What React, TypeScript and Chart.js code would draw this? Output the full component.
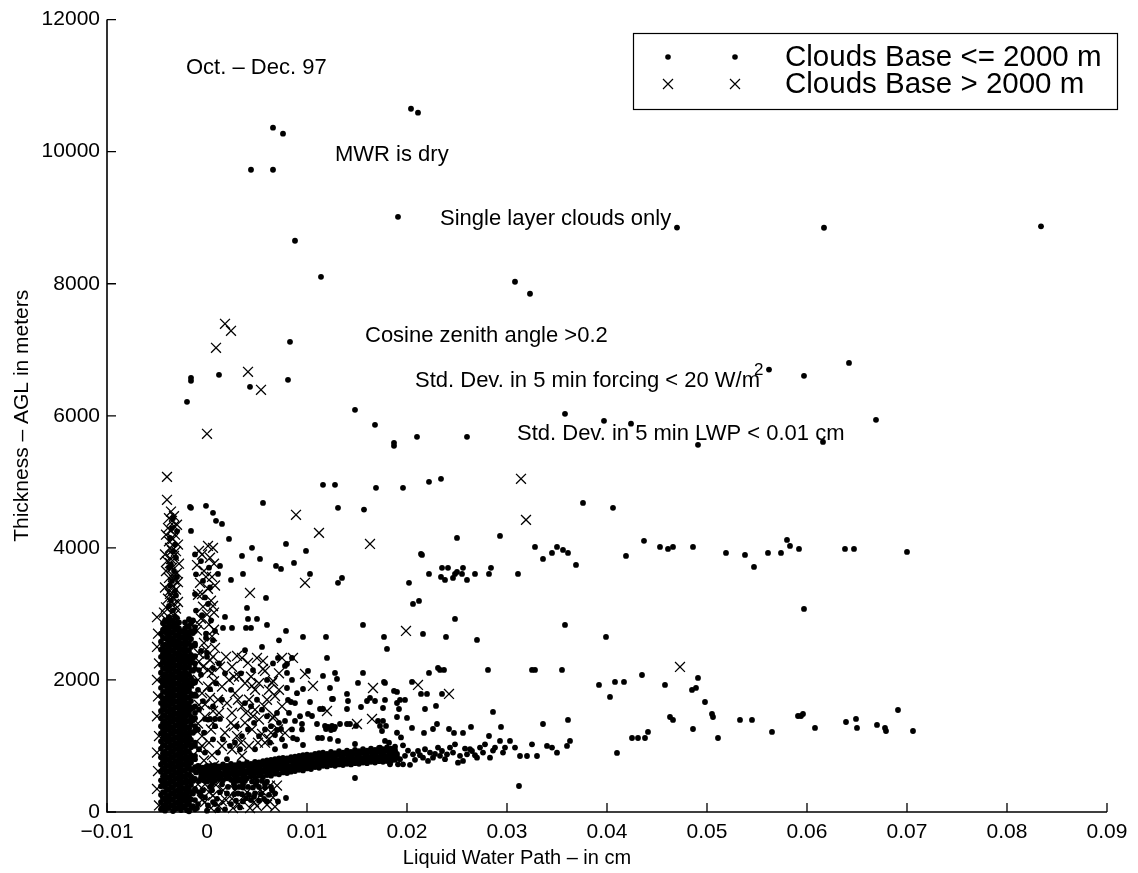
import React, { useEffect, useRef } from "react";
import { Chart, registerables } from "chart.js";

Chart.register(...registerables);

const FONT = "'Liberation Sans', Arial, Helvetica, sans-serif";

// ---------- axis ticks ----------
const xTickValues = [-0.01, 0, 0.01, 0.02, 0.03, 0.04, 0.05, 0.06, 0.07, 0.08, 0.09];
const xTickLabels = ["\u22120.01", "0", "0.01", "0.02", "0.03", "0.04", "0.05", "0.06", "0.07", "0.08", "0.09"];
const yTickValues = [0, 2000, 4000, 6000, 8000, 10000, 12000];
const yTickLabels = ["0", "2000", "4000", "6000", "8000", "10000", "12000"];

const xTitle = "Liquid Water Path \u2013 in cm";
const yTitle = "Thickness \u2013 AGL in meters";
const legendLabels = ["Clouds Base <= 2000 m", "Clouds Base > 2000 m"];

// ---------- annotations (data coordinates) ----------
const noteTexts = [
  "Oct. \u2013 Dec. 97",
  "MWR is dry",
  "Single layer clouds only",
  "Cosine zenith angle >0.2",
  "Std. Dev. in 5 min forcing < 20 W/m",
  "Std. Dev. in 5 min LWP < 0.01 cm",
];
const noteX = [-0.0021, 0.0128, 0.0233, 0.0158, 0.0208, 0.031];
const noteY = [11270, 9950, 8985, 7210, 6530, 5730];

// ---------- Clouds Base <= 2000 m (dots) ----------
// dense vertical column near LWP = -0.003
const columnX = [
  -0.0046, -0.0042, -0.0038, -0.0034, -0.003, -0.0026, -0.0022, -0.0018, -0.0014, -0.004, -0.0032, -0.0024,
  -0.0044, -0.0036, -0.0028, -0.002, -0.0016, -0.0012,
];
const columnY = [
  [40, 150, 260, 390, 480, 610, 720, 830, 960, 1070, 1190, 1300, 1420, 1530, 1650, 1760, 1880, 1990, 2110, 2230, 2350, 2460, 2580, 2700],
  [20, 105, 210, 290, 385, 470, 565, 645, 740, 835, 915, 1010, 1105, 1185, 1280, 1375, 1455, 1550, 1645, 1725, 1820, 1915, 1995, 2090, 2185, 2265, 2360, 2455, 2535, 2630, 2725, 2805, 2900],
  [60, 150, 240, 335, 430, 515, 610, 700, 785, 880, 970, 1060, 1150, 1240, 1325, 1420, 1510, 1600, 1690, 1775, 1870, 1960, 2050, 2140, 2230, 2315, 2410, 2500, 2590, 2680, 2765, 2860, 2950],
  [15, 100, 190, 285, 370, 460, 555, 640, 730, 825, 910, 1000, 1095, 1180, 1270, 1365, 1450, 1540, 1635, 1720, 1810, 1905, 1990, 2080, 2175, 2260, 2350, 2445, 2530, 2620, 2715, 2800, 2890],
  [55, 140, 235, 320, 415, 505, 590, 685, 770, 865, 955, 1040, 1135, 1220, 1315, 1405, 1490, 1585, 1670, 1765, 1855, 1940, 2035, 2120, 2215, 2305, 2390, 2485, 2570, 2665, 2755, 2840, 2935],
  [30, 120, 210, 300, 395, 480, 575, 665, 750, 845, 935, 1020, 1115, 1200, 1295, 1385, 1470, 1565, 1650, 1745, 1835, 1920, 2015, 2100, 2195, 2285, 2370, 2465, 2550, 2645, 2735],
  [70, 165, 250, 345, 440, 525, 620, 710, 800, 890, 980, 1070, 1160, 1250, 1340, 1430, 1520, 1610, 1700, 1790, 1880, 1970, 2060, 2150, 2240, 2330, 2420, 2510, 2600, 2690, 2780, 2870],
  [10, 130, 230, 350, 460, 560, 690, 800, 910, 1040, 1150, 1270, 1380, 1500, 1620, 1730, 1850, 1960, 2080, 2200, 2320, 2440, 2560, 2680, 2800, 2920],
  [90, 280, 470, 640, 830, 1010, 1200, 1390, 1580, 1760, 1950, 2140, 2330, 2520, 2710, 2900],
  [65, 160, 245, 340, 425, 520, 615, 700, 795, 880, 975, 1070, 1155, 1250, 1340, 1430, 1525, 1610, 1705, 1795, 1885, 1980, 2065, 2160, 2255, 2340, 2430, 2525, 2615, 2705, 2795, 2880],
  [45, 135, 230, 315, 410, 500, 595, 680, 775, 860, 955, 1045, 1130, 1225, 1310, 1405, 1495, 1585, 1680, 1770, 1860, 1950, 2040, 2135, 2225, 2315, 2405, 2500, 2590, 2680, 2770, 2860, 2960],
  [85, 175, 265, 355, 450, 540, 630, 720, 810, 905, 995, 1085, 1175, 1270, 1360, 1450, 1540, 1630, 1725, 1815, 1905, 1995, 2085, 2180, 2270, 2360, 2450, 2545, 2640, 2730],
  [85, 195, 300, 430, 540, 660, 770, 890, 1010, 1120, 1240, 1350, 1470, 1590, 1700, 1820, 1940, 2050, 2170, 2290, 2400, 2520, 2640, 2760, 2860],
  [105, 195, 285, 380, 470, 560, 655, 745, 835, 925, 1015, 1105, 1195, 1285, 1375, 1465, 1555, 1645, 1735, 1825, 1915, 2005, 2095, 2185, 2275, 2365, 2455, 2545, 2635, 2725, 2815, 2905],
  [80, 170, 260, 350, 440, 530, 620, 710, 800, 890, 980, 1070, 1160, 1250, 1340, 1430, 1520, 1610, 1700, 1790, 1880, 1970, 2060, 2150, 2240, 2330, 2420, 2510, 2600, 2690, 2780, 2870],
  [25, 115, 205, 295, 385, 475, 565, 655, 745, 835, 925, 1015, 1105, 1195, 1285, 1375, 1465, 1555, 1645, 1735, 1825, 1915, 2005, 2095, 2185, 2275, 2365, 2455, 2545, 2635, 2725, 2815],
  [60, 190, 300, 410, 520, 640, 750, 860, 980, 1090, 1210, 1320, 1440, 1560, 1680, 1790, 1910, 2030, 2150, 2260, 2380, 2500, 2620, 2740, 2860],
  [40, 180, 330, 500, 680, 850, 1050, 1230, 1420, 1600, 1780, 1980, 2170, 2360, 2550, 2740],
];

const upperColumnDots = [
  [-0.0034, 3050], [-0.0036, 3200], [-0.0032, 3350], [-0.0035, 3500], [-0.0033, 3650], [-0.0036, 3750],
  [-0.0034, 3950], [-0.0032, 4050], [-0.0035, 4300], [-0.0034, 4450], [-0.0016, 4606], [-0.0016, 4257],
  [-0.0038, 3120], [-0.0031, 3280], [-0.0037, 3430], [-0.003, 3560], [-0.0038, 3700], [-0.0031, 3850],
  [-0.0037, 4150], [-0.003, 4250],
];

const secondColumnDots = [
  [-0.0012, 3900], [-0.0006, 3800], [0.0002, 3700], [-0.0011, 3600], [-0.0004, 3500], [0.0003, 3400],
  [-0.0012, 3300], [-0.0002, 3250], [0.0001, 3150], [-0.0011, 3050], [-0.0005, 2980], [0.0004, 2900],
  [-0.0012, 2800], [-0.0001, 2700], [0.0006, 2600], [-0.0012, 2520], [-0.0006, 2440], [0, 2350],
  [-0.0012, 2250], [0.0006, 2180], [-0.0006, 2080], [-0.0012, 1960], [0.0003, 1860], [-0.0011, 1760],
  [-0.0004, 1680], [0.0006, 1600], [-0.0012, 1500], [0.0001, 1400], [-0.0012, 1300], [-0.0003, 1200],
  [0.0006, 1100], [-0.0012, 1000], [-0.0002, 900], [-0.0012, 800], [0.0004, 700], [-0.0011, 600],
  [-0.0003, 480], [0.0005, 420], [-0.0012, 350], [-0.0002, 220], [0.0006, 150], [-0.001, 60], [0, 20],
  [-0.0001, 2636], [0, 2409], [-0.0008, 2150], [-0.0009, 1850], [-0.0008, 1550], [-0.0009, 1250],
  [-0.0008, 950], [-0.0009, 700], [-0.0008, 300], [-0.0009, 120],
];

const bandLow = [
  [-0.0008, 470], [-0.0004, 490], [0, 460], [0.0004, 480], [0.0008, 470], [0.0012, 500], [0.0016, 480], [0.002, 510],
  [0.0024, 490], [0.0028, 520], [0.0032, 500], [0.0036, 530], [0.004, 510], [0.0044, 540], [0.0048, 520], [0.0052, 550],
  [0.0056, 530], [0.006, 560], [0.0064, 550], [0.0068, 580], [0.0072, 570], [0.0076, 600], [0.008, 590], [0.0084, 610],
  [0.0088, 620], [0.0092, 640], [0.0096, 630], [0.01, 660], [0.0104, 650], [0.0108, 680], [0.0112, 670], [0.0116, 700],
  [0.012, 690], [0.0124, 710], [0.0128, 700], [0.0132, 720], [0.0136, 710], [0.014, 730], [0.0144, 720], [0.0148, 740],
  [0.0152, 730], [0.0156, 750], [0.016, 740], [0.0164, 760], [0.0168, 750], [0.0172, 770], [0.0176, 760], [0.018, 780],
  [0.0184, 770], [0.0188, 790],
];
const bandLowMid = [
  [-0.0006, 520], [-0.0002, 540], [0.0002, 515], [0.0006, 535], [0.001, 545], [0.0014, 530], [0.0018, 555], [0.0022, 545],
  [0.0026, 570], [0.003, 555], [0.0034, 580], [0.0038, 570], [0.0042, 590], [0.0046, 575], [0.005, 600], [0.0054, 590],
  [0.0058, 610], [0.0062, 615], [0.0066, 630], [0.007, 640], [0.0074, 650], [0.0078, 660], [0.0082, 650], [0.0086, 670],
  [0.009, 680], [0.0094, 690], [0.0098, 700], [0.0102, 710], [0.0106, 700], [0.011, 720], [0.0114, 730], [0.0118, 740],
  [0.0122, 735], [0.0126, 755], [0.013, 745], [0.0134, 765], [0.0138, 755], [0.0142, 775], [0.0146, 765], [0.015, 785],
  [0.0154, 775], [0.0158, 795], [0.0162, 785], [0.0166, 805], [0.017, 795], [0.0174, 815], [0.0178, 805], [0.0182, 825],
  [0.0186, 815], [0.019, 835],
];
const bandMid = [
  [-0.0006, 580], [-0.0002, 600], [0.0002, 570], [0.0006, 590], [0.001, 600], [0.0014, 580], [0.0018, 610], [0.0022, 600],
  [0.0026, 620], [0.003, 610], [0.0034, 630], [0.0038, 620], [0.0042, 640], [0.0046, 630], [0.005, 650], [0.0054, 640],
  [0.0058, 660], [0.0062, 670], [0.0066, 680], [0.007, 690], [0.0074, 700], [0.0078, 710], [0.0082, 700], [0.0086, 720],
  [0.009, 730], [0.0094, 740], [0.0098, 750], [0.0102, 760], [0.0106, 750], [0.011, 770], [0.0114, 780], [0.0118, 790],
  [0.0122, 780], [0.0126, 800], [0.013, 790], [0.0134, 810], [0.0138, 800], [0.0142, 820], [0.0146, 810], [0.015, 830],
  [0.0154, 820], [0.0158, 840], [0.0162, 830], [0.0166, 850], [0.017, 840], [0.0174, 860], [0.0178, 850], [0.0182, 870],
  [0.0186, 860], [0.019, 880],
];
const bandMidHigh = [
  [-0.0008, 635], [-0.0004, 650], [0, 640], [0.0004, 635], [0.0008, 655], [0.0012, 645], [0.0016, 665], [0.002, 655],
  [0.0024, 675], [0.0028, 665], [0.0032, 685], [0.0036, 675], [0.004, 695], [0.0044, 685], [0.0048, 705], [0.0052, 700],
  [0.0056, 715], [0.006, 725], [0.0064, 735], [0.0068, 745], [0.0072, 755], [0.0076, 765], [0.008, 760], [0.0084, 775],
  [0.0088, 785], [0.0092, 795], [0.0096, 805], [0.01, 815], [0.0104, 810], [0.0108, 825], [0.0112, 835], [0.0116, 845],
  [0.012, 835], [0.0124, 855], [0.0128, 845], [0.0132, 865], [0.0136, 855], [0.014, 875], [0.0144, 865], [0.0148, 885],
  [0.0152, 875], [0.0156, 895], [0.016, 885], [0.0164, 905], [0.0168, 895], [0.0172, 915], [0.0176, 905], [0.018, 925],
  [0.0184, 915], [0.0188, 935],
];
const bandHigh = [
  [-0.0008, 690], [-0.0004, 670], [0, 700], [0.0004, 680], [0.0008, 710], [0.0012, 690], [0.0016, 720], [0.002, 700],
  [0.0024, 730], [0.0028, 710], [0.0032, 740], [0.0036, 720], [0.004, 750], [0.0044, 730], [0.0048, 760], [0.0052, 750],
  [0.0056, 770], [0.006, 780], [0.0064, 790], [0.0068, 800], [0.0072, 810], [0.0076, 820], [0.008, 810], [0.0084, 830],
  [0.0088, 840], [0.0092, 850], [0.0096, 860], [0.01, 870], [0.0104, 860], [0.0108, 880], [0.0112, 890], [0.0116, 900],
  [0.012, 880], [0.0124, 910], [0.0128, 890], [0.0132, 920], [0.0136, 900], [0.014, 930], [0.0144, 910], [0.0148, 940],
  [0.0152, 920], [0.0156, 950], [0.016, 930], [0.0164, 960], [0.0168, 940], [0.0172, 970], [0.0176, 950], [0.018, 980],
  [0.0184, 960], [0.0188, 990],
];
const bandTail = [
  [0.0173, 975], [0.0176, 874], [0.018, 773], [0.0183, 722], [0.0186, 823], [0.0191, 722], [0.0196, 722], [0.0203, 715],
  [0.0206, 874], [0.0211, 924], [0.0216, 823], [0.0221, 773], [0.0226, 823], [0.0231, 975], [0.0235, 924], [0.024, 874],
  [0.0243, 975], [0.0248, 1025], [0.0251, 747], [0.0256, 773], [0.026, 874], [0.0265, 924], [0.027, 823], [0.0273, 975],
  [0.0278, 1025], [0.0283, 823], [0.0288, 975], [0.0293, 1076], [0.0298, 975], [0.0303, 1076], [0.0308, 975], [0.0313, 848],
  [0.032, 848], [0.0325, 1025], [0.033, 848], [0.034, 1000], [0.0345, 975], [0.035, 899], [0.036, 1000], [0.0363, 1076],
  [0.0178, 940], [0.0188, 900], [0.0198, 850], [0.0208, 790], [0.0218, 950], [0.0228, 880], [0.0238, 800], [0.0246, 900],
  [0.0258, 960], [0.0268, 860], [0.0276, 900], [0.0286, 930], [0.0296, 900], [0.0193, 800], [0.0201, 930], [0.0213, 860],
  [0.0223, 900], [0.0233, 850], [0.0253, 850], [0.0263, 950],
];
const bottomBlockDots = [
  [0.0026, 470], [0.003, 470], [0.0034, 470], [0.0038, 470], [0.0045, 460], [0.005, 470], [0.0055, 470], [0.006, 460],
  [0.0028, 370], [0.0032, 380], [0.0036, 370], [0.0041, 380], [0.0046, 370], [0.0052, 380], [0.0058, 370], [0.0064, 380],
  [0.0027, 270], [0.0031, 280], [0.0035, 270], [0.0042, 260], [0.0048, 280], [0.0054, 270], [0.0062, 260], [0.0068, 280],
  [0.0029, 170], [0.0036, 160], [0.0044, 180], [0.0052, 170], [0.006, 160], [0.0079, 212], [0.0003, 380], [0.0008, 120],
  [0.0013, 300], [-0.0006, 250], [0.0018, 40], [0.0148, 515], [0.0312, 394],
  [0.0001, 100], [0.0005, 330], [0.001, 200], [0.0015, 420], [0.002, 280], [0.0024, 120], [0.0011, 30], [0.0021, 380],
  [-0.0004, 330], [0.0007, 480], [0.0033, 70], [0.0039, 210], [0.0047, 230], [0.0057, 200], [0.0065, 330], [0.0071, 160],
  [0.0058, 420], [0.0049, 420], [0.0036, 420], [0.0027, 420],
];
const midDots = [
  [0.0022, 4136], [0.0015, 4363], [0.0006, 4530], [0.0009, 4409], [0.0045, 4000], [0.0053, 3833], [0.0035, 3878],
  [0.0036, 3606], [0.0024, 3515], [0.0013, 3727], [0.0011, 3606], [0.0069, 3727], [0.0074, 3681], [0.0079, 4060],
  [0.0087, 3772], [0.0099, 3954], [0.0103, 3606], [0.0131, 3470], [0.0135, 3545], [0.0059, 3242], [0.004, 3091],
  [0.0041, 2924], [0.005, 2924], [0.0018, 2954], [0.0008, 2742], [0.0016, 2788], [0.0025, 2788], [0.0039, 2788],
  [0.0044, 2788], [0.006, 2833], [0.0079, 2742], [0.0096, 2651], [0.0119, 2651], [0.0156, 2833], [0.012, 2333],
  [0.0085, 2333], [0.0071, 2333], [0.008, 2242], [0.0078, 2212], [0.008, 2106], [0.0101, 2136], [0.0116, 2060],
  [0.0128, 2106], [0.013, 2015], [0.0151, 1954], [0.0156, 2106], [0.0178, 1954], [0.0096, 1863], [0.008, 1878],
  [0.0081, 1697], [0.0084, 1666], [0.0103, 1666], [0.0123, 1878], [0.0125, 1712], [0.0126, 1712], [0.014, 1788],
  [0.0141, 1681], [0.016, 1681], [0.0163, 1727], [0.0168, 1681], [0.0154, 1590], [0.0101, 1485], [0.0105, 1454],
  [0.0113, 1560], [0.0116, 1560], [0.014, 1560], [0.0176, 1575], [0.019, 1651], [0.0078, 1379], [0.0088, 1379],
  [0.0095, 1333], [0.011, 1333], [0.0118, 1303], [0.0121, 1288], [0.0125, 1303], [0.0128, 1288], [0.0119, 1257],
  [0.0124, 1242], [0.0127, 1257], [0.0133, 1333], [0.014, 1333], [0.0143, 1333], [0.0149, 1303], [0.0171, 1379],
  [0.0173, 1303], [0.0175, 1227], [0.0178, 1076], [0.0182, 1050], [0.019, 1200], [0.0194, 1130], [0.0196, 1010],
  [0.0111, 1121], [0.0115, 1121], [0.0123, 1106], [0.0131, 1076], [0.0148, 1030], [0.0074, 1257], [0.007, 1242],
  [0.0068, 1167], [0.0086, 1121], [0.0096, 1015], [0.0012, 2250], [0.0018, 2100], [0.0009, 1950], [0.0024, 1850],
  [0.0015, 1700], [0.0008, 1300], [0.0016, 1100], [0.0023, 1000], [0.0011, 900], [0.002, 800], [0.0038, 1650],
  [0.0044, 1600], [0.005, 1700], [0.0055, 1550], [0.006, 1450], [0.0047, 1350], [0.0041, 1250], [0.0052, 1150],
  [0.0058, 1250], [0.0064, 1300], [0.007, 1500], [0.0072, 1350], [0.0075, 1100], [0.0063, 1050], [0.0035, 1150],
  [0.003, 1300], [0.0028, 1050], [0.0033, 950], [0.0048, 950], [0.0068, 950], [0.0078, 1000], [0.0085, 1250],
  [0.009, 1100], [0.0082, 1500], [0.0088, 1650], [0.0093, 1450], [0.0095, 1250], [0.0034, 2100], [0.0046, 2150],
  [0.006, 2000], [0.0066, 2250], [0.0038, 2450], [0.0055, 2500], [0.0072, 2600], [0.0085, 2000], [0.009, 1800],
  [-0.0002, 1409], [0.0003, 1409], [0.0008, 1409], [0.0013, 1409],
];
const rightDots = [
  [0.0177, 2651], [0.018, 2469], [0.0216, 2697], [0.0239, 2651], [0.0248, 2924], [0.027, 2606], [0.0358, 2833],
  [0.0399, 2651], [0.0177, 1970], [0.0187, 1833], [0.019, 1818], [0.0178, 1697], [0.0193, 1697], [0.0198, 1697],
  [0.0205, 1970], [0.0214, 1788], [0.022, 1788], [0.0222, 2106], [0.0231, 2182], [0.0233, 2151], [0.0237, 2151],
  [0.0235, 1788], [0.0218, 1560], [0.0192, 1560], [0.0229, 1606], [0.019, 1439], [0.02, 1424], [0.0205, 1273],
  [0.0176, 1379], [0.0179, 1303], [0.023, 1333], [0.0226, 1257], [0.0217, 1197], [0.0242, 1257], [0.0247, 1197],
  [0.0256, 1197], [0.0264, 1288], [0.0281, 2151], [0.0286, 1515], [0.0294, 1288], [0.0282, 1151], [0.0325, 2151],
  [0.0328, 2151], [0.0355, 2151], [0.0361, 1394], [0.0336, 1333], [0.0392, 1924], [0.0403, 1742], [0.0408, 1970],
  [0.0417, 1970], [0.0435, 2075], [0.0458, 1924], [0.0485, 1848], [0.0489, 1879], [0.0491, 2030], [0.0498, 1666],
  [0.0505, 1485], [0.0506, 1439], [0.0463, 1439], [0.0466, 1394], [0.0486, 1257], [0.0511, 1121], [0.0533, 1394],
  [0.0545, 1394], [0.0565, 1212], [0.0591, 1454], [0.0594, 1454], [0.0596, 1485], [0.0608, 1273], [0.0425, 1121],
  [0.0431, 1121], [0.0438, 1121], [0.0441, 1212], [0.041, 894], [0.0691, 1545], [0.0639, 1363], [0.0649, 1409],
  [0.065, 1273], [0.067, 1318], [0.0678, 1273], [0.0679, 1227], [0.0706, 1227],
  [0.025, 4151], [0.0293, 4181], [0.0215, 3893], [0.0214, 3908], [0.0328, 4015], [0.0336, 3833], [0.0345, 3924],
  [0.035, 4015], [0.0356, 3969], [0.0361, 3924], [0.0369, 3742], [0.0419, 3878], [0.0437, 4106], [0.0453, 4015],
  [0.0461, 3984], [0.0466, 4015], [0.0486, 4015], [0.0519, 3924], [0.0538, 3893], [0.0547, 3712], [0.0561, 3924],
  [0.0574, 3924], [0.058, 4121], [0.0583, 4030], [0.0592, 3984], [0.0597, 3075], [0.0638, 3984], [0.0647, 3984],
  [0.07, 3939], [0.0222, 3606], [0.0235, 3697], [0.0241, 3697], [0.0234, 3560], [0.0238, 3515], [0.0246, 3545],
  [0.0248, 3606], [0.025, 3636], [0.0255, 3606], [0.0256, 3697], [0.026, 3515], [0.0268, 3606], [0.0282, 3606],
  [0.0284, 3697], [0.0311, 3606], [0.0202, 3470], [0.0206, 3151], [0.0212, 3197],
];
const highDots = [
  [0.0066, 10363], [0.0076, 10272], [0.0044, 9726], [0.0066, 9726], [0.0204, 10650], [0.0211, 10590], [0.0191, 9014],
  [0.0088, 8651], [0.0114, 8105], [0.0308, 8030], [0.0323, 7848], [0.047, 8850], [0.0617, 8848], [0.0834, 8870],
  [0.0083, 7121], [-0.0016, 6575], [-0.0016, 6530], [0.0012, 6620], [0.0043, 6439], [0.0081, 6545], [-0.002, 6212],
  [0.0642, 6800], [0.0562, 6700], [0.0597, 6605], [0.0148, 6090], [0.0358, 6030], [0.0397, 5924], [0.0424, 5880],
  [0.0669, 5939], [0.0168, 5863], [0.0187, 5590], [0.0187, 5545], [0.021, 5681], [0.026, 5681], [0.0491, 5560],
  [0.0616, 5605], [0.0116, 4954], [0.0128, 4954], [0.0169, 4909], [0.0196, 4909], [0.0222, 5000], [0.0234, 5045],
  [0.0056, 4681], [-0.0001, 4636], [-0.0017, 4621], [0.0131, 4606], [0.0157, 4580], [0.0376, 4681], [0.0406, 4606],
];

// ---------- Clouds Base > 2000 m (crosses) ----------
const sparseCrosses = [
  [0.0018, 7393], [0.0024, 7287], [0.0009, 7030], [0.0041, 6666], [0.0054, 6393], [0, 5727], [-0.004, 5075],
  [-0.004, 4727], [0.0089, 4500], [0.0112, 4227], [0.0163, 4060], [0.0314, 5045], [0.0319, 4424], [0.0043, 3318],
  [0.0098, 3470], [0.0199, 2742], [0.0211, 1924], [0.0242, 1788], [0.0473, 2197], [0.0001, 4030],
];
const columnCrosses = [
  [-0.0036, 3015], [-0.0033, 3151], [-0.0037, 3303], [-0.0034, 3424], [-0.0038, 3545], [-0.0035, 3697], [-0.0033, 3878],
  [-0.0037, 4000], [-0.0034, 4136], [-0.0036, 4257], [-0.0035, 4409], [-0.0031, 3080], [-0.0039, 3230], [-0.0031, 3370],
  [-0.003, 3620], [-0.004, 3800], [-0.0031, 3950], [-0.0039, 4300], [-0.0032, 4200], [-0.0038, 4100],
  [-0.0041, 3100], [-0.0029, 3180], [-0.0042, 3400], [-0.0029, 3480], [-0.0041, 3650], [-0.0028, 3760],
  [-0.0042, 3900], [-0.0029, 4050], [-0.0041, 4200], [-0.003, 4350], [-0.0036, 4550], [-0.0033, 4480],
  [-0.0037, 3350], [-0.0034, 3580], [-0.0036, 3830], [-0.0035, 3250], [-0.0033, 3520], [-0.0037, 3770],
  [-0.0035, 3960], [-0.0033, 4330], [-0.0038, 4450], [-0.0032, 3000], [-0.0043, 3020],
  [-0.005, 2950], [-0.0049, 2700], [-0.005, 2500], [-0.0048, 2250], [-0.005, 2000], [-0.0049, 1750], [-0.005, 1450],
  [-0.0048, 1150], [-0.005, 900], [-0.0049, 620], [-0.005, 350], [-0.0048, 100],
  [-0.004, 2900], [-0.0035, 2600], [-0.003, 2300], [-0.0038, 2000], [-0.0025, 1700], [-0.0033, 1400], [-0.004, 1100],
  [-0.0028, 800], [-0.0036, 500], [-0.0022, 250], [-0.0042, 150], [-0.0019, 2700], [-0.0018, 1950], [-0.002, 1200],
  [-0.0017, 600],
];
const secondColumnCrosses = [
  [-0.0008, 3954], [0.0003, 3850], [-0.001, 3740], [-0.0003, 3650], [0.0005, 3560], [-0.0007, 3470], [0.0001, 3380],
  [-0.0009, 3290], [0.0004, 3200], [-0.0004, 3110], [0.0007, 3020], [-0.0006, 2930], [0.0002, 2840], [-0.001, 2750],
  [0.0005, 2660], [-0.0003, 2560], [0.0008, 2485], [-0.0008, 2400], [0.0003, 2300], [-0.0004, 2200], [0.0005, 2106],
  [-0.0009, 2000], [0.0001, 1900], [-0.0005, 1800], [0.0003, 1727], [-0.0008, 1620], [0.0006, 1530], [-0.0002, 1440],
  [-0.0009, 1340], [0.0004, 1250], [-0.0005, 1150], [0.0002, 1050], [-0.0008, 950], [0.0005, 860], [-0.0003, 780],
  [-0.0006, 650], [0.0003, 550], [-0.0009, 420], [0.0002, 300], [-0.0005, 180], [0.0004, 60],
  [0.0006, 4000], [-0.0005, 3900], [0.0007, 3760], [-0.0001, 3560], [0.0008, 3430], [-0.0005, 3300], [0.0006, 3120],
  [0, 2990], [-0.0008, 2840], [0.0007, 2760], [-0.0001, 2460], [0.0006, 2350], [-0.0008, 2280], [0.0001, 2150],
  [0.0007, 1980], [-0.0002, 1630], [0.0006, 1350], [-0.0005, 1000], [0.0007, 700], [-0.0002, 420],
];
const clusterCrosses = [
  [0.003, 2363], [0.0035, 2333], [0.005, 2333], [0.0056, 2288], [0.0041, 2257], [0.0045, 1909], [0.0058, 2136],
  [0.0066, 1985], [0.0056, 2166], [0.0065, 1954], [0.0068, 1757], [0.0067, 1454], [0.0055, 1182], [0.0062, 1106],
  [0.0078, 1197], [0.0066, 1424], [0.0025, 2200], [0.0032, 2050], [0.0038, 1950], [0.0028, 1800], [0.0042, 1700],
  [0.0035, 1600], [0.0048, 1550], [0.0025, 1500], [0.0052, 1400], [0.0038, 1350], [0.0045, 1250], [0.003, 1150],
  [0.0058, 1050], [0.0042, 1000], [0.0025, 950], [0.0035, 850], [0.0015, 1900], [0.0012, 1500], [0.0018, 1200],
  [0.0013, 2200], [0.0022, 2000], [0.002, 1650], [0.0048, 1850], [0.006, 1700], [0.0072, 2100], [0.0075, 1600],
  [0.0075, 2333], [0.0086, 2333], [0.0098, 2091], [0.0106, 1909], [0.012, 1530], [0.015, 1333], [0.0165, 1409],
  [0.0166, 1878],
  [0.0027, 2050], [0.0044, 2050], [0.0052, 1950], [0.0031, 1700], [0.0039, 1500], [0.0057, 1600], [0.0062, 1850],
  [0.0046, 1450], [0.0027, 1300], [0.0034, 1050], [0.0051, 1050], [0.0064, 1200], [0.0071, 1250], [0.0072, 1850],
  [0.0019, 2350], [0.0024, 1350], [0.0015, 1000], [0.0011, 1700],
  [0.0025, 200], [0.0032, 120], [0.004, 300], [0.0047, 150], [0.0053, 330], [0.006, 110], [0.0066, 220],
  [0.007, 400], [0.0043, 60], [0.0026, 60], [-0.0002, 150], [0.0006, 250], [0.0012, 90], [0.0016, 330], [0.0019, 180],
  [0.0028, 330], [0.0037, 240], [0.005, 90], [0.0063, 400], [0.0056, 300], [0.0009, 410], [0.0015, 160], [0.0068, 80],
];

const toPts = (arr: number[][]) => arr.map(([x, y]) => ({ x, y }));

function buildColumn(xs: number[], ys: number[][]) {
  const pts: { x: number; y: number }[] = [];
  xs.forEach((x, i) => ys[i].forEach((y) => pts.push({ x, y })));
  return pts;
}

const lowBasePoints = [
  ...buildColumn(columnX, columnY),
  ...toPts(upperColumnDots),
  ...toPts(secondColumnDots),
  ...toPts(bandLow),
  ...toPts(bandLowMid),
  ...toPts(bandMid),
  ...toPts(bandMidHigh),
  ...toPts(bandHigh),
  ...toPts(bandTail),
  ...toPts(bottomBlockDots),
  ...toPts(midDots),
  ...toPts(rightDots),
  ...toPts(highDots),
];
const highBasePoints = [
  ...toPts(sparseCrosses),
  ...toPts(columnCrosses),
  ...toPts(secondColumnCrosses),
  ...toPts(clusterCrosses),
];

export default function App() {
  const ref = useRef<HTMLCanvasElement>(null);

  useEffect(() => {
    const canvas = ref.current;
    if (!canvas) return;

    const overlay = {
      id: "overlay",
      afterDraw(chart: any) {
        const ctx = chart.ctx as CanvasRenderingContext2D;
        const xs = chart.scales.x;
        const ys = chart.scales.y;
        const area = chart.chartArea;
        ctx.save();
        ctx.strokeStyle = "#000";
        ctx.fillStyle = "#000";
        // axes lines
        ctx.lineWidth = 1.6;
        ctx.beginPath();
        ctx.moveTo(area.left, area.top);
        ctx.lineTo(area.left, area.bottom);
        ctx.lineTo(area.right, area.bottom);
        ctx.stroke();
        // inward ticks
        ctx.lineWidth = 1.3;
        ctx.beginPath();
        yTickValues.forEach((v) => {
          const p = ys.getPixelForValue(v);
          ctx.moveTo(area.left, p);
          ctx.lineTo(area.left + 9, p);
        });
        xTickValues.forEach((v) => {
          const p = xs.getPixelForValue(v);
          ctx.moveTo(p, area.bottom);
          ctx.lineTo(p, area.bottom - 9);
        });
        ctx.stroke();

        // x title
        ctx.font = `20px ${FONT}`;
        ctx.textAlign = "center";
        ctx.textBaseline = "middle";
        ctx.fillText(xTitle, 517, 858);

        // annotations
        ctx.font = `22px ${FONT}`;
        ctx.textAlign = "left";
        noteTexts.forEach((t, i) => {
          const px = xs.getPixelForValue(noteX[i]);
          const py = ys.getPixelForValue(noteY[i]);
          ctx.fillText(t, px, py);
          if (i === 4) {
            const w = ctx.measureText(t).width;
            ctx.font = `17px ${FONT}`;
            ctx.fillText("2", px + w - 6, py - 10);
            ctx.font = `22px ${FONT}`;
          }
        });

        // legend
        const lx = 633, ly = 33, lw = 484, lh = 76;
        ctx.fillStyle = "#fff";
        ctx.fillRect(lx, ly, lw, lh);
        ctx.fillStyle = "#000";
        ctx.lineWidth = 1.2;
        ctx.strokeRect(lx + 0.5, ly + 0.5, lw, lh);
        const rows = [57, 84];
        const mx = [668, 735];
        ctx.font = `29.5px ${FONT}`;
        ctx.textBaseline = "middle";
        rows.forEach((ry, i) => {
          mx.forEach((x) => {
            if (i === 0) {
              ctx.beginPath();
              ctx.arc(x, ry, 2.8, 0, Math.PI * 2);
              ctx.fill();
            } else {
              ctx.lineWidth = 1.2;
              ctx.beginPath();
              ctx.moveTo(x - 5, ry - 5);
              ctx.lineTo(x + 5, ry + 5);
              ctx.moveTo(x + 5, ry - 5);
              ctx.lineTo(x - 5, ry + 5);
              ctx.stroke();
            }
          });
          ctx.fillText(legendLabels[i], 785, ry + 1);
        });
        ctx.restore();
      },
    };

    const chart = new Chart(canvas, {
      type: "scatter",
      data: {
        datasets: [
          {
            label: legendLabels[0],
            data: lowBasePoints,
            pointStyle: "circle",
            pointRadius: 2.9,
            pointHoverRadius: 2.9,
            backgroundColor: "#000",
            borderColor: "#000",
            borderWidth: 0,
            clip: false as any,
            order: 2,
          },
          {
            label: legendLabels[1],
            data: highBasePoints,
            pointStyle: "crossRot",
            pointRadius: 7,
            pointHoverRadius: 7,
            backgroundColor: "#000",
            borderColor: "#000",
            borderWidth: 1.3,
            clip: false as any,
            order: 1,
          },
        ],
      },
      options: {
        responsive: false,
        animation: false,
        devicePixelRatio: 1,
        events: [],
        layout: { padding: { top: 18, right: 31, left: 0, bottom: 0 } },
        plugins: {
          legend: { display: false },
          tooltip: { enabled: false },
        },
        scales: {
          x: {
            type: "linear",
            min: -0.01,
            max: 0.09,
            grid: { display: false, drawTicks: false },
            border: { display: false },
            afterBuildTicks: (axis: any) => {
              axis.ticks = xTickValues.map((v) => ({ value: v }));
            },
            afterFit: (scale: any) => {
              scale.height = 61;
            },
            ticks: {
              autoSkip: false,
              maxRotation: 0,
              padding: 8,
              color: "#000",
              font: { size: 21, family: FONT },
              callback: (_v: any, i: number) => xTickLabels[i],
            },
          },
          y: {
            type: "linear",
            min: 0,
            max: 12000,
            grid: { display: false, drawTicks: false },
            border: { display: false },
            afterBuildTicks: (axis: any) => {
              axis.ticks = yTickValues.map((v) => ({ value: v }));
            },
            afterFit: (scale: any) => {
              scale.width = 107;
            },
            ticks: {
              autoSkip: false,
              padding: 7,
              color: "#000",
              font: { size: 21, family: FONT },
              callback: (_v: any, i: number) => yTickLabels[i],
            },
            title: {
              display: true,
              text: yTitle,
              color: "#000",
              font: { size: 21, family: FONT },
              padding: { top: 10, bottom: 0 },
            },
          },
        },
      },
      plugins: [overlay],
    });

    return () => chart.destroy();
  }, []);

  return (
    <div style={{ position: "fixed", left: 0, top: 0, width: 1138, height: 873, background: "#fff" }}>
      <canvas ref={ref} width={1138} height={873} style={{ width: 1138, height: 873, display: "block" }} />
    </div>
  );
}
